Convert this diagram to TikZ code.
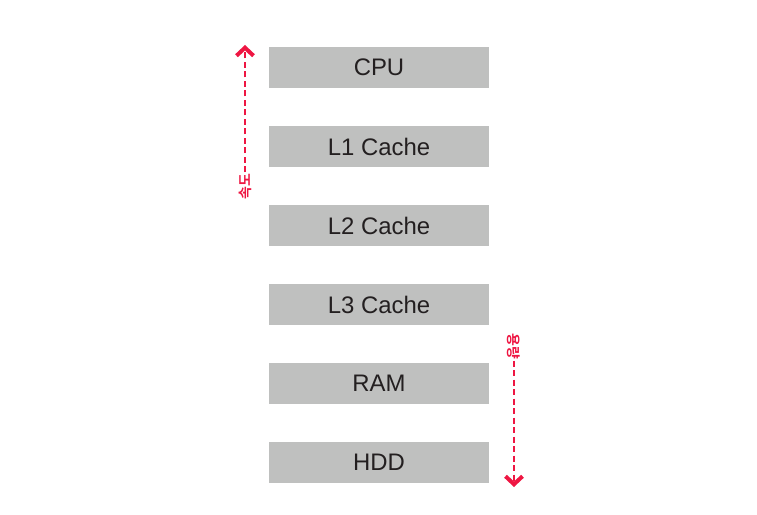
\documentclass[tikz,border=0pt]{standalone}
\usepackage{fontspec}
\setmainfont{Liberation Sans}
\newfontfamily\krfont{Noto Sans CJK KR Bold}
\usetikzlibrary{arrows.meta}
\definecolor{boxgray}{RGB}{191,192,191}
\definecolor{boxtext}{RGB}{35,31,32}
\definecolor{arrred}{RGB}{238,22,66}
\tikzset{
  membox/.style={fill=boxgray, draw=none, minimum width=220bp, minimum height=41bp, inner sep=0pt,
    text=boxtext, font=\fontsize{24}{24}\selectfont},
  dirlabel/.style={text=arrred, font=\krfont\fontsize{14}{14}\selectfont, inner sep=1.5pt},
  dirarrow/.style={draw=arrred, line width=2.5bp, dash pattern=on 6bp off 3.5bp,
    -{Straight Barb[length=8bp, width=17bp, line width=4bp]}}
}
\begin{document}
\begin{tikzpicture}[x=1bp, y=-1bp]
\useasboundingbox (0,0) rectangle (757,515);
\node[membox] (cpu) at (379,67.5) {CPU};
\node[membox] (l1) at (379,146.5) {L1 Cache};
\node[membox] (l2) at (379,225.5) {L2 Cache};
\node[membox] (l3) at (379,304.5) {L3 Cache};
\node[membox] (ram) at (379,383.5) {RAM};
\node[membox] (hdd) at (379,462.5) {HDD};
\node[dirlabel, rotate=90] (speed) at (245,187) {속도};
\node[dirlabel, rotate=-90] (cap) at (514,346) {용량};
\coordinate (speedtop) at (245,45);
\coordinate (capbot) at (514,487);
\draw[dirarrow] (speed.east) -- (speedtop);
\draw[dirarrow] (cap.east) -- (capbot);
\end{tikzpicture}
\end{document}
